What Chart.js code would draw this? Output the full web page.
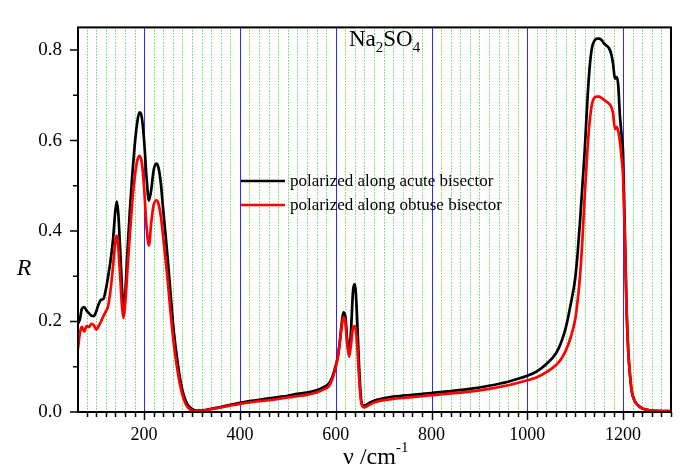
<!DOCTYPE html>
<html>
<head>
<meta charset="utf-8">
<script src="https://cdn.jsdelivr.net/npm/chart.js@4.4.0/dist/chart.umd.min.js"></script>
<style>
  html, body { margin: 0; padding: 0; background: #fff; }
</style>
</head>
<body>
<canvas id="myChart" width="683" height="468"></canvas>
<script>
// Data
const wavenumber = [
  62, 66, 70, 75, 80, 85, 90, 95, 100, 105, 110, 115, 120, 125, 130, 135, 140, 143, 146, 150,
  154, 157, 160, 165, 170, 175, 180, 185, 190, 193, 196, 200, 205, 210, 215, 220, 226, 230, 235, 240,
  245, 250, 255, 260, 265, 270, 275, 280, 285, 290, 295, 300, 305, 310, 320, 330, 340, 350, 360, 380,
  400, 420, 440, 460, 480, 500, 520, 540, 560, 575, 585, 592, 598, 604, 608, 612, 616, 620, 624, 628,
  632, 636, 640, 644, 648, 652, 656, 660, 670, 680, 700, 720, 740, 760, 780, 800, 840, 880, 920, 960,
  1000, 1020, 1040, 1060, 1070, 1080, 1090, 1100, 1105, 1110, 1115, 1120, 1125, 1130, 1135, 1140, 1145, 1150, 1155, 1160,
  1165, 1170, 1175, 1179, 1183, 1187, 1190, 1193, 1197, 1200, 1204, 1207, 1211, 1215, 1218, 1224, 1231, 1240, 1250, 1262,
  1280, 1300
];
const acute = [
  0.195, 0.205, 0.228, 0.232, 0.224, 0.218, 0.213, 0.212, 0.222, 0.238, 0.248, 0.250, 0.270, 0.300, 0.335, 0.380, 0.445, 0.465, 0.440, 0.360,
  0.270, 0.225, 0.250, 0.350, 0.440, 0.520, 0.585, 0.635, 0.662, 0.660, 0.645, 0.600, 0.520, 0.467, 0.492, 0.535, 0.549, 0.540, 0.505, 0.445,
  0.390, 0.330, 0.265, 0.200, 0.150, 0.110, 0.074, 0.048, 0.030, 0.018, 0.011, 0.007, 0.004, 0.003, 0.003, 0.005, 0.007, 0.009, 0.011, 0.016,
  0.020, 0.024, 0.027, 0.030, 0.033, 0.036, 0.040, 0.043, 0.048, 0.055, 0.062, 0.075, 0.095, 0.120, 0.150, 0.190, 0.220, 0.212, 0.160, 0.132,
  0.180, 0.265, 0.282, 0.225, 0.120, 0.040, 0.015, 0.014, 0.020, 0.025, 0.030, 0.034, 0.036, 0.038, 0.040, 0.042, 0.046, 0.051, 0.058, 0.067,
  0.080, 0.090, 0.106, 0.130, 0.152, 0.185, 0.235, 0.295, 0.350, 0.420, 0.500, 0.580, 0.680, 0.760, 0.805, 0.820, 0.825, 0.825, 0.822, 0.815,
  0.810, 0.805, 0.792, 0.770, 0.737, 0.740, 0.720, 0.660, 0.610, 0.570, 0.380, 0.240, 0.130, 0.075, 0.046, 0.025, 0.015, 0.008, 0.005, 0.003,
  0.002, 0.002
];
const obtuse = [
  0.140, 0.175, 0.188, 0.178, 0.190, 0.188, 0.195, 0.192, 0.182, 0.190, 0.200, 0.212, 0.222, 0.235, 0.270, 0.320, 0.378, 0.390, 0.365, 0.300,
  0.232, 0.208, 0.232, 0.310, 0.390, 0.460, 0.515, 0.552, 0.566, 0.562, 0.545, 0.495, 0.410, 0.368, 0.420, 0.458, 0.468, 0.460, 0.432, 0.385,
  0.335, 0.282, 0.222, 0.170, 0.125, 0.090, 0.060, 0.038, 0.022, 0.012, 0.006, 0.003, 0.002, 0.002, 0.002, 0.004, 0.006, 0.008, 0.010, 0.014,
  0.018, 0.021, 0.024, 0.026, 0.029, 0.032, 0.035, 0.038, 0.043, 0.050, 0.056, 0.070, 0.090, 0.118, 0.148, 0.185, 0.210, 0.200, 0.150, 0.122,
  0.150, 0.185, 0.190, 0.160, 0.090, 0.030, 0.012, 0.010, 0.016, 0.021, 0.026, 0.029, 0.031, 0.033, 0.035, 0.037, 0.041, 0.045, 0.051, 0.059,
  0.070, 0.077, 0.088, 0.104, 0.116, 0.135, 0.163, 0.205, 0.245, 0.300, 0.380, 0.480, 0.570, 0.640, 0.680, 0.695, 0.697, 0.697, 0.694, 0.690,
  0.686, 0.682, 0.675, 0.660, 0.625, 0.630, 0.620, 0.600, 0.560, 0.520, 0.370, 0.235, 0.130, 0.075, 0.046, 0.025, 0.015, 0.008, 0.005, 0.003,
  0.002, 0.002
];
const seriesLabels = ['polarized along acute bisector', 'polarized along obtuse bisector'];
const xTickLabels = [200, 400, 600, 800, 1000, 1200];
const yTickLabels = [0.0, 0.2, 0.4, 0.6, 0.8];

const serif = '"Liberation Serif", "Times New Roman", serif';

// Vertical grid: green dotted every tick, blue solid at labelled ticks
const gridPlugin = {
  id: 'vgrid',
  beforeDatasetsDraw(chart) {
    const {ctx, chartArea: a, scales: {x}} = chart;
    ctx.save();
    ctx.lineWidth = 1;
    x.ticks.forEach(t => {
      if (t.value >= x.max) return;
      const px = Math.round(x.getPixelForValue(t.value)) + 0.5;
      const major = xTickLabels.includes(t.value);
      ctx.strokeStyle = major ? '#2a2aff' : '#10c010';
      ctx.setLineDash(major ? [] : [1, 2]);
      ctx.beginPath();
      ctx.moveTo(px, a.top); ctx.lineTo(px, a.bottom);
      ctx.stroke();
    });
    ctx.restore();
  }
};

// Frame, tick marks, titles and legend
const extrasPlugin = {
  id: 'extras',
  afterDraw(chart) {
    const {ctx, chartArea: a, scales: {x, y}} = chart;
    ctx.save();
    ctx.strokeStyle = '#000';
    ctx.lineWidth = 2;
    ctx.strokeRect(a.left, a.top, a.right - a.left, a.bottom - a.top);

    ctx.lineWidth = 1.5;
    ctx.beginPath();
    x.ticks.forEach(t => {
      const px = Math.round(x.getPixelForValue(t.value)) + 0.5;
      const len = xTickLabels.includes(t.value) ? 8 : 5;
      ctx.moveTo(px, a.bottom); ctx.lineTo(px, a.bottom + len);
    });
    y.ticks.forEach(t => {
      const py = y.getPixelForValue(t.value);
      const major = yTickLabels.some(v => Math.abs(v - t.value) < 1e-6);
      ctx.moveTo(a.left, py); ctx.lineTo(a.left - (major ? 8 : 5), py);
    });
    ctx.stroke();

    ctx.fillStyle = '#000';
    ctx.textBaseline = 'alphabetic';

    // chart title Na2SO4
    let cx = 349;
    const parts = [['Na', 0], ['2', 1], ['SO', 0], ['4', 1]];
    parts.forEach(([s, sub]) => {
      ctx.font = (sub ? '15px ' : '23px ') + serif;
      ctx.fillText(s, cx, sub ? 52 : 46);
      cx += ctx.measureText(s).width;
    });

    // x axis title
    ctx.font = '24px ' + serif;
    const xt = '\u03bd /cm';
    const xw = ctx.measureText(xt).width;
    let tx = (a.left + a.right) / 2 - (xw + 10) / 2;
    ctx.fillText(xt, tx, 464);
    ctx.font = '15px ' + serif;
    ctx.fillText('-1', tx + xw, 452);

    // y axis title
    ctx.font = 'italic 24px ' + serif;
    ctx.textAlign = 'center';
    ctx.fillText('R', 24, 275);
    ctx.textAlign = 'left';

    // legend
    ctx.font = '17px ' + serif;
    ctx.textBaseline = 'middle';
    chart.data.datasets.forEach((ds, i) => {
      const ly = 181 + i * 24;
      ctx.strokeStyle = ds.borderColor;
      ctx.lineWidth = 2.5;
      ctx.beginPath();
      ctx.moveTo(241, ly); ctx.lineTo(285, ly);
      ctx.stroke();
      ctx.fillText(ds.label, 290, ly + 1);
    });
    ctx.restore();
  }
};

const ctx = document.getElementById('myChart').getContext('2d');
const myChart = new Chart(ctx, {
  type: 'line',
  data: {
    datasets: [
      {
        label: seriesLabels[0],
        data: wavenumber.map((v, i) => ({x: v, y: acute[i]})),
        borderColor: '#000000',
        borderWidth: 2.7,
        pointRadius: 0,
        cubicInterpolationMode: 'monotone',
        order: 1
      },
      {
        label: seriesLabels[1],
        data: wavenumber.map((v, i) => ({x: v, y: obtuse[i]})),
        borderColor: '#ff0000',
        borderWidth: 2.7,
        pointRadius: 0,
        cubicInterpolationMode: 'monotone',
        order: 0
      }
    ]
  },
  options: {
    responsive: false,
    animation: false,
    devicePixelRatio: 1,
    layout: { padding: { top: 8, right: 8, left: 0, bottom: 0 } },
    plugins: { legend: { display: false }, tooltip: { enabled: false } },
    scales: {
      x: {
        type: 'linear',
        min: 62,
        max: 1300,
        afterBuildTicks: scale => {
          const t = [];
          for (let v = 80; v <= 1300; v += 20) t.push({value: v});
          scale.ticks = t;
        },
        afterFit: scale => { scale.height = 56; },
        ticks: {
          autoSkip: false,
          maxRotation: 0,
          padding: 12,
          color: '#000',
          font: { family: serif, size: 18 },
          callback: v => xTickLabels.includes(v) ? String(v) : ''
        },
        grid: { drawOnChartArea: false, drawTicks: false },
        border: { display: false }
      },
      y: {
        min: 0,
        max: 0.85,
        afterBuildTicks: scale => {
          const t = [];
          for (let i = 0; i <= 8; i++) t.push({value: i / 10});
          scale.ticks = t;
        },
        afterFit: scale => { scale.width = 78; },
        ticks: {
          autoSkip: false,
          padding: 16,
          color: '#000',
          font: { family: serif, size: 19 },
          callback: v => yTickLabels.some(t => Math.abs(t - v) < 1e-6) ? v.toFixed(1) : ''
        },
        grid: { drawOnChartArea: false, drawTicks: false },
        border: { display: false }
      }
    }
  },
  plugins: [gridPlugin, extrasPlugin]
});
</script>
</body>
</html>
